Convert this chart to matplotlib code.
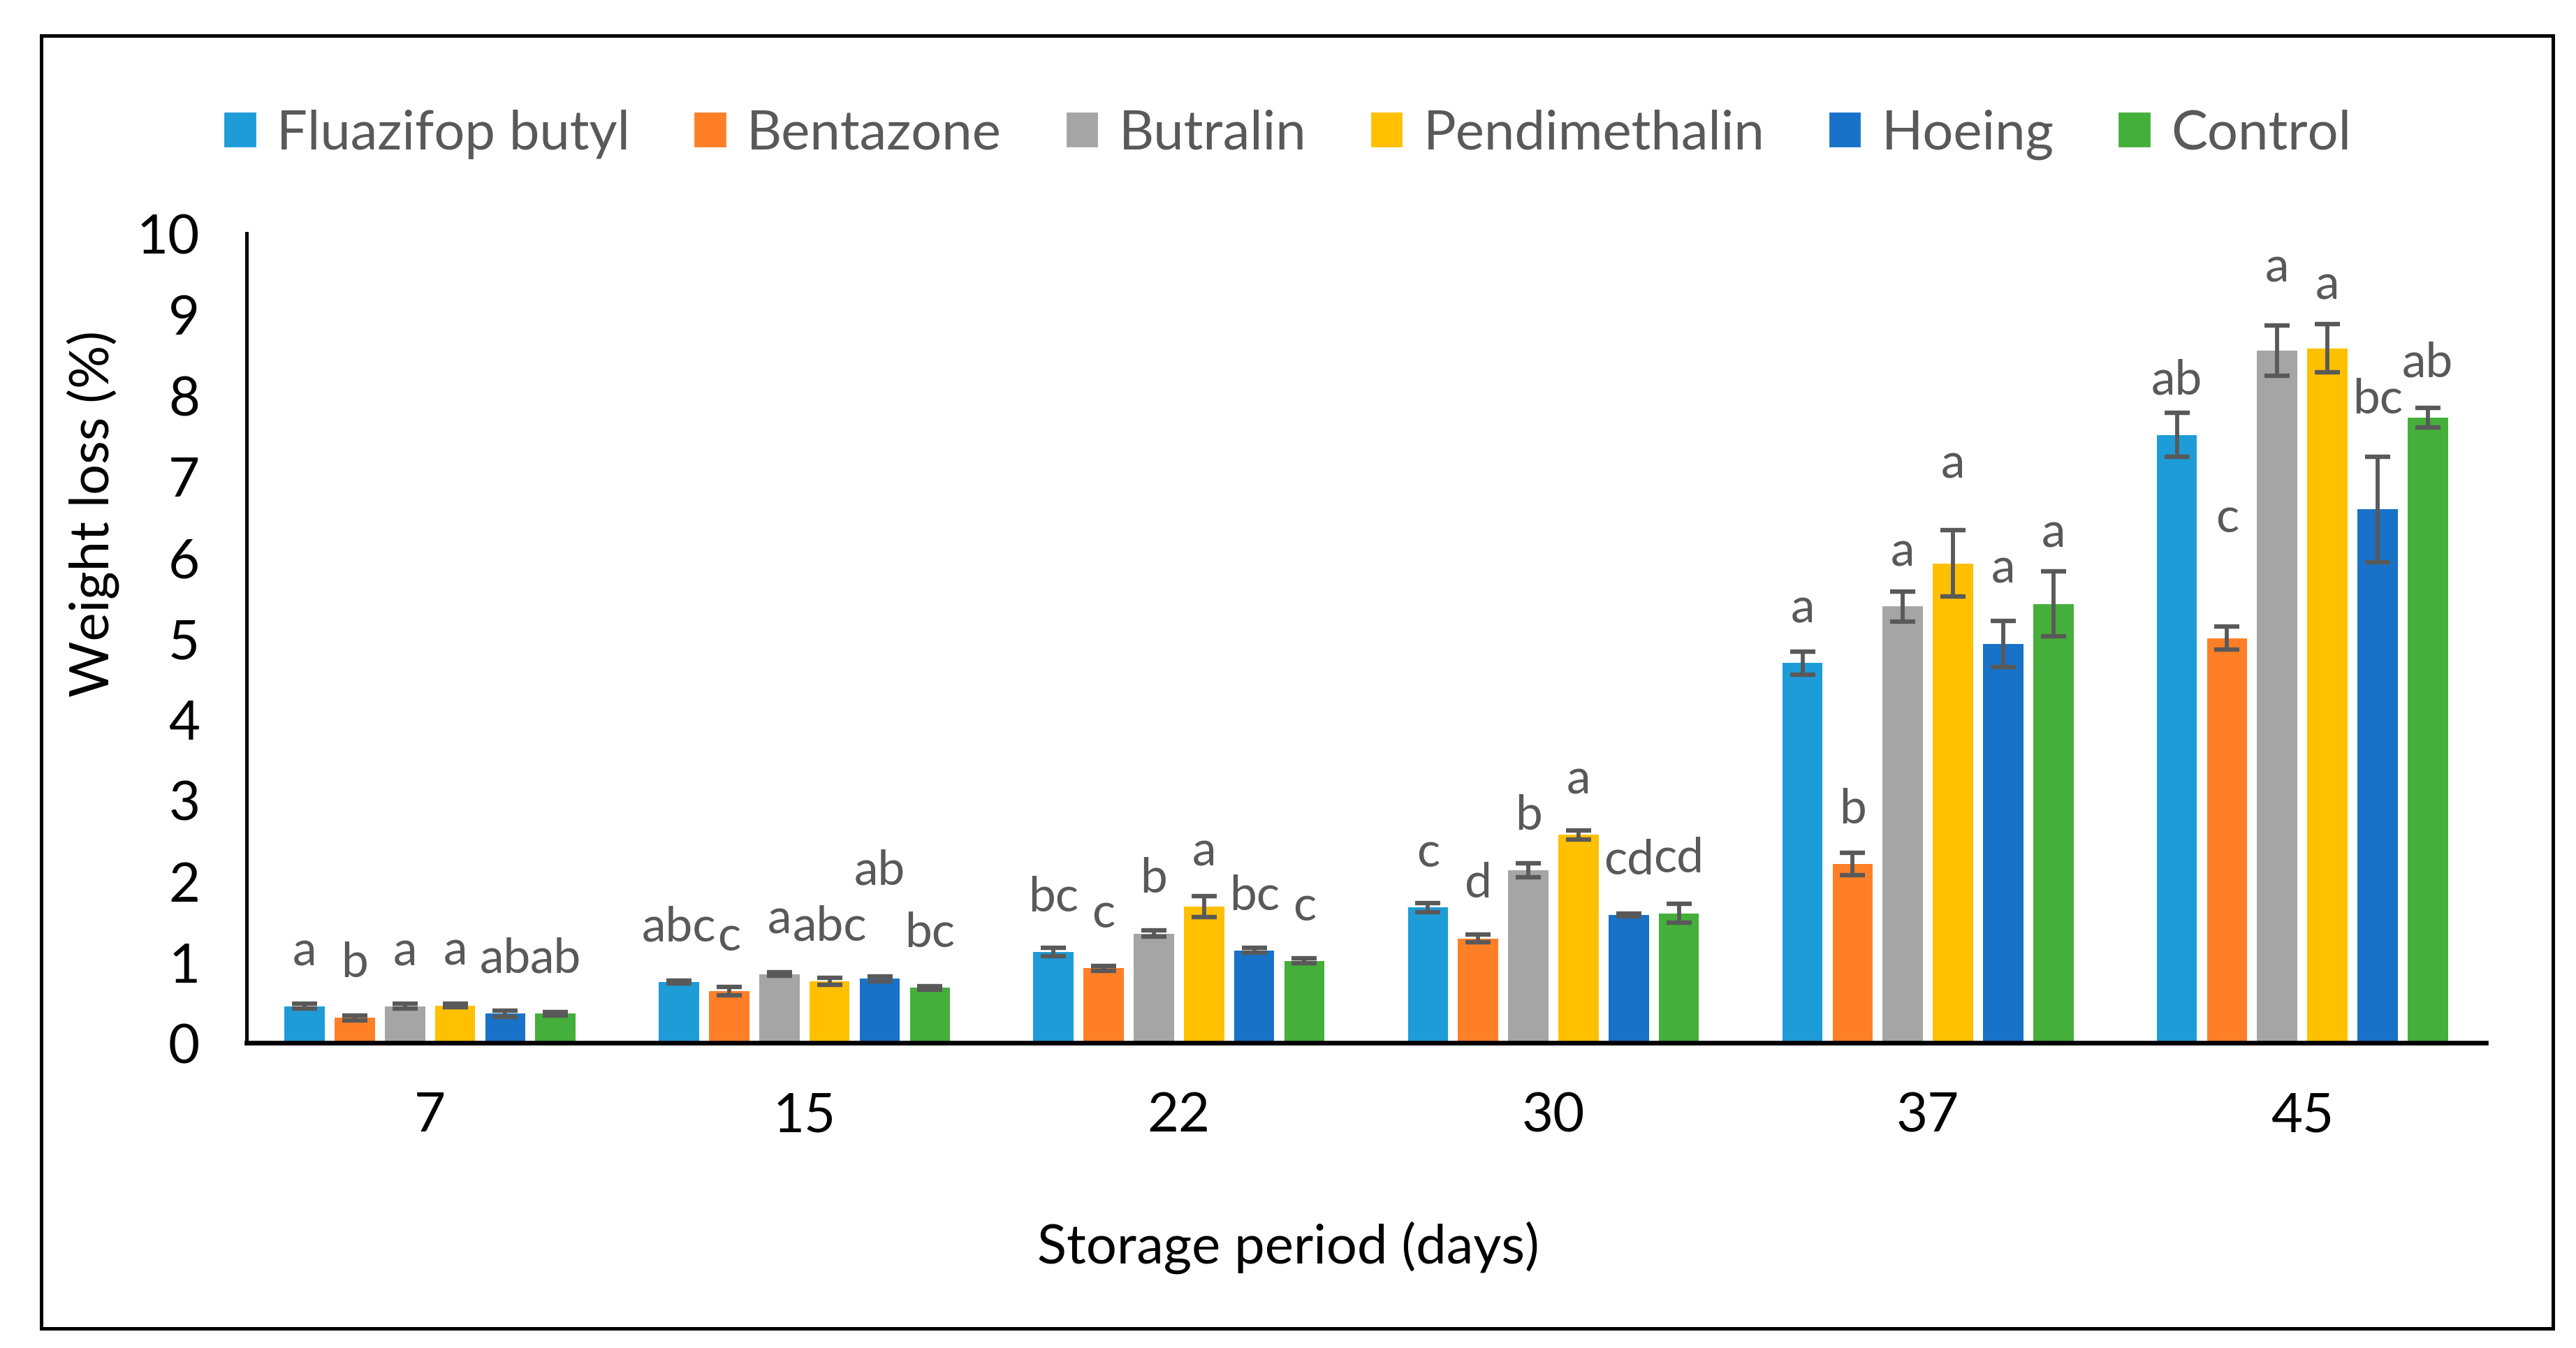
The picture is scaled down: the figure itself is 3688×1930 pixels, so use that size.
import matplotlib.pyplot as plt
import matplotlib.patches as mpatches
import numpy as np

plt.rcParams['font.family'] = ['Lato', 'DejaVu Sans']

days = ['7', '15', '22', '30', '37', '45']
treatments = ['Fluazifop butyl', 'Bentazone', 'Butralin', 'Pendimethalin', 'Hoeing', 'Control']
colors = ['#1E9CD8', '#FF7F27', '#A5A5A5', '#FFC000', '#1772C8', '#44AF3A']

# weight loss (%) per treatment, one value per storage period
fluazifop = [0.45, 0.75, 1.12, 1.67, 4.69, 7.51]
bentazone = [0.31, 0.64, 0.92, 1.29, 2.21, 5.00]
butralin = [0.45, 0.85, 1.35, 2.13, 5.39, 8.55]
pendimethalin = [0.46, 0.76, 1.68, 2.57, 5.92, 8.58]
hoeing = [0.36, 0.79, 1.14, 1.58, 4.93, 6.59]
control = [0.36, 0.68, 1.01, 1.60, 5.42, 7.72]

fluazifop_err = [0.03, 0.02, 0.05, 0.06, 0.14, 0.27]
bentazone_err = [0.03, 0.05, 0.03, 0.045, 0.14, 0.145]
butralin_err = [0.03, 0.02, 0.04, 0.085, 0.185, 0.31]
pendimethalin_err = [0.02, 0.04, 0.13, 0.055, 0.41, 0.295]
hoeing_err = [0.04, 0.03, 0.03, 0.02, 0.285, 0.65]
control_err = [0.02, 0.02, 0.03, 0.115, 0.40, 0.12]

fluazifop_lbl = ['a', 'abc', 'bc', 'c', 'a', 'ab']
bentazone_lbl = ['b', 'c', 'c', 'd', 'b', 'c']
butralin_lbl = ['a', 'a', 'b', 'b', 'a', 'a']
pendimethalin_lbl = ['a', 'abc', 'a', 'a', 'a', 'a']
hoeing_lbl = ['ab', 'ab', 'bc', 'cd', 'a', 'bc']
control_lbl = ['ab', 'bc', 'c', 'cd', 'a', 'ab']

values = [fluazifop, bentazone, butralin, pendimethalin, hoeing, control]
errors = [fluazifop_err, bentazone_err, butralin_err, pendimethalin_err, hoeing_err, control_err]
letters = [fluazifop_lbl, bentazone_lbl, butralin_lbl, pendimethalin_lbl, hoeing_lbl, control_lbl]

# labels that were dragged higher in the original (treatment index, day index): extra lift
lift = {(4, 1): 0.66, (3, 4): 0.55, (4, 4): 0.25, (5, 4): 0.2,
        (1, 5): 0.8, (2, 5): 0.35, (3, 5): 0.1, (4, 5): 0.68}

fig = plt.figure(figsize=(18.44, 9.655), dpi=200)
ax = fig.add_axes([0.0957, 0.2263, 0.8693, 0.6002])

x = np.arange(len(days))
slot = 0.134
width = 0.1075
grey = '#595959'

for i in range(len(treatments)):
    pos = x + (i - 2.5) * slot
    ax.bar(pos, values[i], width, color=colors[i], label=treatments[i], zorder=2)
    ax.errorbar(pos, values[i], yerr=errors[i], fmt='none', ecolor=grey,
                elinewidth=2.1, capsize=6.6, capthick=2.3, zorder=3)
    for j in range(len(days)):
        y = values[i][j] + 0.68 + lift.get((i, j), 0)
        ax.text(pos[j], y, letters[i][j], ha='center', va='center',
                fontsize=25, color=grey)

ax.set_xlim(-0.49, 5.49)
ax.set_ylim(0, 10)
ax.set_yticks(range(0, 11))
ax.set_xticks(x)
ax.set_xticklabels(days)
ax.tick_params(axis='both', length=0, labelsize=28, colors='black')
ax.tick_params(axis='y', pad=24)
ax.tick_params(axis='x', pad=25)
for s in ['top', 'right']:
    ax.spines[s].set_visible(False)
ax.spines['left'].set_linewidth(1.8)
ax.spines['bottom'].set_linewidth(2.4)

fig.text(0.5, 0.075, 'Storage period (days)', ha='center', va='center', fontsize=28)
fig.text(0.036, 0.619, 'Weight loss (%)', ha='center', va='center', fontsize=28, rotation=90)

handles = [mpatches.Patch(color=c) for c in colors]
leg = fig.legend(handles, treatments, loc='center', bbox_to_anchor=(0.5, 0.9), ncol=6,
                 frameon=False, fontsize=28, handlelength=0.55, handleheight=0.55,
                 handletextpad=0.4, columnspacing=1.2)
for t in leg.get_texts():
    t.set_color(grey)

fig.patches.append(mpatches.Rectangle((0.016, 0.0145), 0.975, 0.9585, transform=fig.transFigure,
                                      fill=False, edgecolor='black', linewidth=1.8))

fig.savefig('out.png', dpi=200)
